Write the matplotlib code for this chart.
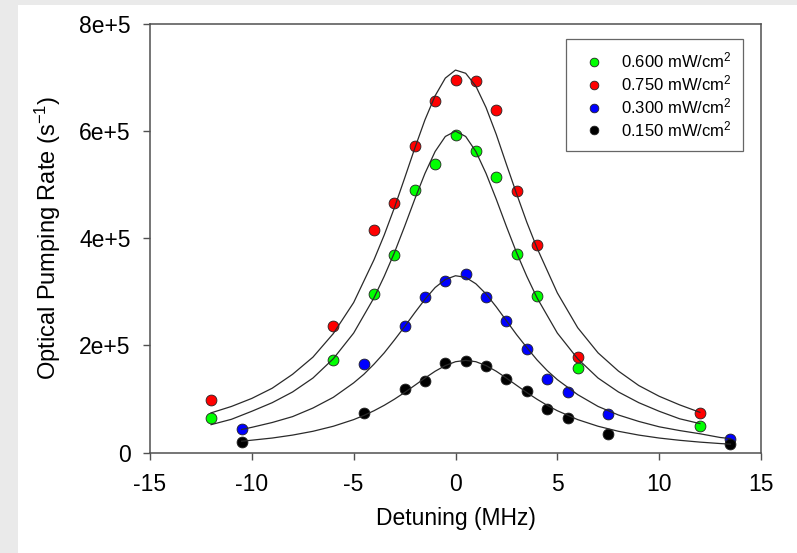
import matplotlib

matplotlib.use("Agg")
import matplotlib.pyplot as plt
import numpy as np
from matplotlib.patches import Rectangle

# measured points (rate in units of 1e3 s^-1)
detuning_wide = [-12, -6, -4, -3, -2, -1, 0, 1, 2, 3, 4, 6, 12]
rate_060 = [64, 172, 296, 368, 491, 539, 593, 563, 514, 371, 293, 157, 50]
rate_075 = [98, 237, 415, 465, 572, 657, 695, 693, 639, 488, 387, 179, 74]

detuning_half = [-10.5, -4.5, -2.5, -1.5, -0.5, 0.5, 1.5, 2.5, 3.5, 4.5, 5.5, 7.5, 13.5]
rate_030 = [44, 165, 236, 291, 321, 333, 290, 245, 193, 137, 113, 71, 25]
rate_015 = [20, 74, 119, 133, 168, 170, 162, 137, 115, 81, 65, 35, 15]

# fitted curves
fit_x_wide = [-12, -11, -10, -9, -8, -7, -6, -5, -4, -3.5, -3, -2.5, -2, -1.5, -1, -0.5, 0,
              0.5, 1, 1.5, 2, 2.5, 3, 3.5, 4, 5, 6, 7, 8, 9, 10, 11, 12]
fit_075 = [74, 86, 101, 120, 146, 178, 222, 280, 360, 406, 457, 512, 568, 621, 666, 699, 714,
           708, 684, 644, 594, 538, 483, 430, 382, 298, 233, 186, 152, 125, 105, 89, 75]
fit_060 = [52, 62, 77, 93, 113, 139, 175, 223, 289, 329, 373, 422, 473, 521, 562, 590, 600,
           590, 562, 521, 473, 422, 373, 329, 289, 223, 175, 139, 113, 93, 77, 63, 54]

fit_x_half = [-10.5, -10, -9, -8, -7, -6, -5, -4.5, -4, -3.5, -3, -2.5, -2, -1.5, -1, -0.5, 0,
              0.5, 1, 1.5, 2, 2.5, 3, 3.5, 4, 4.5, 5, 6, 7, 8, 9, 10, 11, 12, 13, 13.5]
fit_030 = [43, 47, 56, 67, 83, 103, 130, 146, 165, 186, 210, 235, 261, 286, 308, 323, 330,
           327, 315, 296, 272, 246, 220, 196, 173, 153, 136, 108, 86, 70, 58, 48, 41, 35, 28, 26]
fit_015 = [21, 23, 27, 32.5, 39.6, 49, 61.4, 69.2, 78, 88.1, 99.5, 112, 125.4, 138.9, 151.7,
           162.3, 169.5, 172, 169.5, 162.3, 151.7, 138.9, 125.4, 112, 99.5, 88.1, 78, 61.4, 49,
           39.6, 32.5, 27, 22.8, 19.4, 16.7, 15.6]

series_labels = ["0.600 mW/cm$^{2}$", "0.750 mW/cm$^{2}$", "0.300 mW/cm$^{2}$", "0.150 mW/cm$^{2}$"]
y_ticks = [0, 2e5, 4e5, 6e5, 8e5]
y_tick_labels = ["0", "2e+5", "4e+5", "6e+5", "8e+5"]
x_ticks = [-15, -10, -5, 0, 5, 10, 15]

GREEN = "#00FF00"
RED = "#FF0000"
BLUE = "#0000FF"
BLACK = "#000000"
SPINE = "#505050"
CURVE = "#2A2A2A"


def main() -> None:
    plt.rcParams.update(
        {
            "font.family": ["Liberation Sans", "DejaVu Sans"],
            "mathtext.fontset": "custom",
            "mathtext.rm": "Liberation Sans",
            "mathtext.it": "Liberation Sans:italic",
        }
    )

    fig = plt.figure(figsize=(7.97, 5.53), dpi=100, facecolor="#EAEAEA")
    fig.patches.append(
        Rectangle((18 / 797, 0), 1, 1 - 5 / 553, transform=fig.transFigure,
                  facecolor="white", edgecolor="none", zorder=-10)
    )
    ax = fig.add_axes([150 / 797, 1 - 452.5 / 553, 611 / 797, 428.5 / 553])

    groups = [
        (detuning_wide, rate_060, fit_x_wide, fit_060, GREEN),
        (detuning_wide, rate_075, fit_x_wide, fit_075, RED),
        (detuning_half, rate_030, fit_x_half, fit_030, BLUE),
        (detuning_half, rate_015, fit_x_half, fit_015, BLACK),
    ]
    for (xd, yd, xf, yf, color), label in zip(groups, series_labels):
        ax.plot(xd, np.array(yd) * 1e3, linestyle="none", marker="o", markersize=7.8,
                markerfacecolor=color, markeredgecolor="#222222", markeredgewidth=0.6,
                label=label, zorder=2)
        ax.plot(xf, np.array(yf) * 1e3, color=CURVE, linewidth=0.9, zorder=3)

    ax.set_xlim(-15, 15)
    ax.set_ylim(0, 8e5)
    ax.set_xticks(x_ticks, [str(t) for t in x_ticks])
    ax.set_yticks(y_ticks, y_tick_labels)
    ax.tick_params(axis="both", direction="out", length=5, width=1.0, color=SPINE,
                   labelsize=16.5, pad=9)
    ax.tick_params(axis="x", pad=10)
    ax.tick_params(top=False, right=False)
    for spine in ax.spines.values():
        spine.set_color(SPINE)
        spine.set_linewidth(1.1)

    ax.set_xlabel("Detuning (MHz)", fontsize=16.5)
    ax.set_ylabel("Optical Pumping Rate (s$^{-1}$)", fontsize=17)
    ax.xaxis.set_label_coords(0.5, -0.128)
    ax.yaxis.set_label_coords(-0.143, 0.5)

    leg = ax.legend(
        loc="upper right",
        bbox_to_anchor=((743 - 150) / 611, (452.5 - 39) / 428.5),
        borderaxespad=0,
        fontsize=12,
        frameon=True,
        fancybox=False,
        markerscale=0.8,
        handlelength=2.0,
        handletextpad=0.6,
        borderpad=0.7,
        labelspacing=0.18,
    )
    leg.get_frame().set_edgecolor("#404040")
    leg.get_frame().set_linewidth(0.9)

    fig.savefig("out.png", dpi=100, facecolor=fig.get_facecolor())
    plt.close(fig)


if __name__ == "__main__":
    main()
